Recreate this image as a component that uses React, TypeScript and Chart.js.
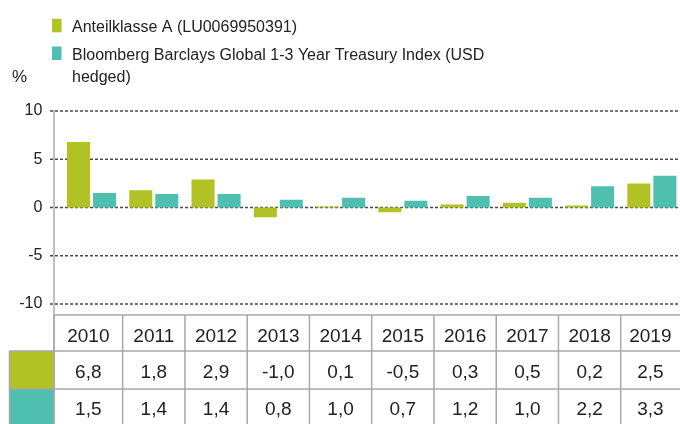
import React, { useEffect, useRef } from "react";
import { Chart, registerables } from "chart.js";

Chart.register(...registerables);

const years = ["2010", "2011", "2012", "2013", "2014", "2015", "2016", "2017", "2018", "2019"];
const fundValues = [6.8, 1.8, 2.9, -1.0, 0.1, -0.5, 0.3, 0.5, 0.2, 2.5];
const indexValues = [1.5, 1.4, 1.4, 0.8, 1.0, 0.7, 1.2, 1.0, 2.2, 3.3];
const seriesLabels = [
  "Anteilklasse A (LU0069950391)",
  "Bloomberg Barclays Global 1-3 Year Treasury Index (USD hedged)",
];
const seriesColors = ["#b0c224", "#4fbfb0"];
const yTicks = [-10, -5, 0, 5, 10];
const unitLabel = "%";

const FONT = '"Liberation Sans", Arial, Helvetica, sans-serif';
const TEXT = "#222222";
const VIEW_W = 680;
const CANVAS_W = 683;
const CANVAS_H = 424;

const fmt = (v: number) => v.toFixed(1).replace(".", ",");

function wrap(ctx: CanvasRenderingContext2D, text: string, maxW: number): string[] {
  const words = text.split(" ");
  const lines: string[] = [];
  let cur = "";
  for (const w of words) {
    const t = cur ? cur + " " + w : w;
    if (ctx.measureText(t).width > maxW && cur) {
      lines.push(cur);
      cur = w;
    } else cur = t;
  }
  if (cur) lines.push(cur);
  return lines;
}

const decor = {
  id: "decor",
  beforeDatasetsDraw(chart: any) {
    const { ctx, scales, chartArea } = chart;
    const y = scales.y;
    ctx.save();
    ctx.strokeStyle = "#4a4a4a";
    ctx.lineWidth = 1.3;
    ctx.setLineDash([3, 2]);
    for (const v of yTicks) {
      const py = y.getPixelForValue(v);
      ctx.beginPath();
      ctx.moveTo(50, py);
      ctx.lineTo(VIEW_W, py);
      ctx.stroke();
    }
    ctx.setLineDash([]);
    ctx.strokeStyle = "#aaaaaa";
    ctx.lineWidth = 1.5;
    ctx.beginPath();
    ctx.moveTo(54, chartArea.top - 1);
    ctx.lineTo(54, CANVAS_H);
    ctx.stroke();
    ctx.restore();
  },
  afterDraw(chart: any) {
    const { ctx, scales } = chart;
    const x = scales.x;
    ctx.save();

    // legend
    ctx.font = `16px ${FONT}`;
    ctx.fillStyle = TEXT;
    ctx.textAlign = "left";
    ctx.textBaseline = "alphabetic";
    const legendBase = [32.3, 60];
    seriesLabels.forEach((lab, i) => {
      const b = legendBase[i];
      ctx.fillStyle = seriesColors[i];
      ctx.fillRect(52, b - 13.5, 9.5, 13.5);
      ctx.fillStyle = TEXT;
      const lines = wrap(ctx, lab, 420);
      lines.forEach((ln, j) => ctx.fillText(ln, 72, b + j * 22));
    });

    // unit
    ctx.font = `17px ${FONT}`;
    ctx.fillText(unitLabel, 12, 82);

    // table
    const rowsY = [315, 351, 389, 424];
    const n = years.length;
    const bounds: number[] = [54];
    for (let k = 1; k < n; k++) {
      bounds.push((x.getPixelForValue(k - 1) + x.getPixelForValue(k)) / 2);
    }
    bounds.push(CANVAS_W);

    // swatches
    ctx.fillStyle = seriesColors[0];
    ctx.fillRect(9.5, rowsY[1], 54 - 9.5, rowsY[2] - rowsY[1]);
    ctx.fillStyle = seriesColors[1];
    ctx.fillRect(9.5, rowsY[2], 54 - 9.5, rowsY[3] - rowsY[2]);

    ctx.strokeStyle = "#a8a8a8";
    ctx.lineWidth = 1.5;
    ctx.beginPath();
    ctx.moveTo(54, rowsY[0]);
    ctx.lineTo(CANVAS_W, rowsY[0]);
    ctx.moveTo(9.5, rowsY[1]);
    ctx.lineTo(CANVAS_W, rowsY[1]);
    ctx.moveTo(9.5, rowsY[2]);
    ctx.lineTo(CANVAS_W, rowsY[2]);
    ctx.moveTo(9.5, rowsY[1]);
    ctx.lineTo(9.5, CANVAS_H);
    for (let k = 0; k < n; k++) {
      ctx.moveTo(bounds[k], rowsY[0]);
      ctx.lineTo(bounds[k], CANVAS_H);
    }
    ctx.stroke();

    ctx.font = `19px ${FONT}`;
    ctx.fillStyle = TEXT;
    ctx.textAlign = "center";
    const baselines = [341.5, 377.5, 414.5];
    const rows = [years, fundValues.map(fmt), indexValues.map(fmt)];
    for (let k = 0; k < n; k++) {
      const cx = (bounds[k] + Math.min(bounds[k + 1], VIEW_W)) / 2;
      rows.forEach((r, ri) => ctx.fillText(r[k], cx, baselines[ri]));
    }
    ctx.restore();
  },
};

export default function App() {
  const ref = useRef<HTMLCanvasElement>(null);
  useEffect(() => {
    if (!ref.current) return;
    const chart = new Chart(ref.current, {
      type: "bar",
      data: {
        labels: years,
        datasets: [
          {
            label: seriesLabels[0],
            data: fundValues,
            backgroundColor: seriesColors[0],
            borderWidth: 0,
            categoryPercentage: 0.836,
            barPercentage: 0.885,
          },
          {
            label: seriesLabels[1],
            data: indexValues,
            backgroundColor: seriesColors[1],
            borderWidth: 0,
            categoryPercentage: 0.836,
            barPercentage: 0.885,
          },
        ],
      },
      options: {
        animation: false,
        responsive: false,
        devicePixelRatio: 1,
        layout: { padding: { top: 111, bottom: 120, left: 0, right: 0 } },
        plugins: { legend: { display: false }, tooltip: { enabled: false } },
        scales: {
          x: { display: false, offset: true },
          y: {
            min: -10,
            max: 10,
            afterFit: (s: any) => {
              s.width = 60.4;
            },
            grid: { display: false, drawTicks: false },
            border: { display: false },
            ticks: {
              stepSize: 5,
              padding: 18,
              color: TEXT,
              font: { family: FONT, size: 16 },
            },
          },
        },
      },
      plugins: [decor],
    });
    return () => chart.destroy();
  }, []);
  return (
    <div
      style={{
        position: "fixed",
        left: 0,
        top: 0,
        width: VIEW_W,
        height: CANVAS_H,
        overflow: "hidden",
        background: "#fff",
      }}
    >
      <canvas
        ref={ref}
        width={CANVAS_W}
        height={CANVAS_H}
        style={{ display: "block", width: CANVAS_W, height: CANVAS_H }}
      />
    </div>
  );
}
